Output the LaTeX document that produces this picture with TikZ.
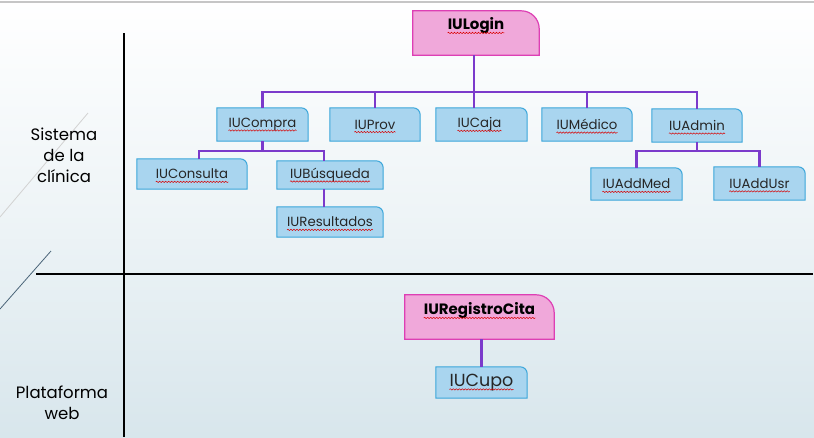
\documentclass[tikz,border=0pt]{standalone}
\usepackage{fontspec}
\setmainfont{Poppins}
\usetikzlibrary{decorations.pathmorphing}
\pgfdeclarelayer{bg}
\pgfdeclarelayer{boxes}
\pgfsetlayers{bg,boxes,main}
\definecolor{boxfill}{HTML}{A9D5EF}
\definecolor{boxline}{HTML}{3AA6DA}
\definecolor{pinkfill}{HTML}{F0A8DA}
\definecolor{pinkline}{HTML}{DD3FB4}
\definecolor{connc}{HTML}{7B3ACB}
\definecolor{bgbot}{HTML}{D8E6EC}
\definecolor{slateline}{HTML}{4A6478}
\definecolor{txt}{HTML}{262626}
\newcommand\shapebox[3]{%
  \begin{pgfonlayer}{boxes}
  \path[#3] (#1.south west) -- (#1.north west) -- ([xshift=-#2]#1.north east)
    arc[start angle=90,end angle=0,radius=#2] -- (#1.south east) -- cycle;
  \end{pgfonlayer}}
\newcommand\squig[1]{%
  \draw[squigline] ([yshift=-3pt]#1.base west) -- ([yshift=-3pt]#1.base east);}
\tikzset{
  x=1pt, y=-1pt,
  hold/.style={rectangle, inner sep=0pt, draw=none, fill=none},
  bluebox/.style={fill=boxfill, draw=boxline, line width=1pt},
  pinkbox/.style={fill=pinkfill, draw=pinkline, line width=1.2pt},
  lbl/.style={inner sep=0pt, text=txt, font=\fontsize{13.3}{15}\selectfont},
  biglbl/.style={inner sep=0pt, text=txt, font=\fontsize{17.5}{20}\selectfont},
  boldlbl/.style={inner sep=0pt, text=black, font=\fontsize{15}{18}\selectfont\bfseries},
  lane/.style={align=center, inner sep=0pt, text=black, font=\fontsize{16.5}{21}\selectfont},
  connline/.style={draw=connc, line width=2.4pt},
  squigline/.style={draw=red!85!black, line width=0.5pt, decorate,
    decoration={snake, amplitude=0.7pt, segment length=3pt}},
  sepline/.style={draw=black, line width=2.2pt}
}
\begin{document}
\begin{tikzpicture}
\useasboundingbox (0,0) rectangle (814,437);
\begin{pgfonlayer}{bg}
\shade[top color=white, bottom color=bgbot, middle color=white!55!bgbot] (0,0) rectangle (814,437);
\draw[gray!45, line width=1.5pt] (0,2) -- (814,2);
\draw[gray!35, line width=0.8pt] (0,217) -- (88,113);
\draw[slateline, line width=0.8pt] (0,309) -- (51,251);
\end{pgfonlayer}

% separators
\draw[sepline] (124,33) -- (124,437);
\draw[sepline] (36,274) -- (813,274);

% lane labels
\node[lane] (sis) at (64,155) {Sistema\\de la\\clínica};
\node[lane] (web) at (62,403) {Plataforma\\web};

% box holders
\node[hold, minimum width=126pt, minimum height=44pt] (login) at (476,33) {};
\node[hold, minimum width=91pt, minimum height=33pt] (compra) at (262.5,124.5) {};
\node[hold, minimum width=90pt, minimum height=33pt] (prov) at (375,124.5) {};
\node[hold, minimum width=91pt, minimum height=33pt] (caja) at (481.5,124.5) {};
\node[hold, minimum width=90pt, minimum height=33pt] (medico) at (587,124.5) {};
\node[hold, minimum width=90pt, minimum height=33pt] (admin) at (697,125.5) {};
\node[hold, minimum width=110pt, minimum height=30pt] (consulta) at (192,174) {};
\node[hold, minimum width=106pt, minimum height=28pt] (busq) at (330,175) {};
\node[hold, minimum width=106pt, minimum height=30pt] (resul) at (330,222) {};
\node[hold, minimum width=91pt, minimum height=32pt] (addmed) at (636.5,184) {};
\node[hold, minimum width=91pt, minimum height=33pt] (addusr) at (759.5,183.5) {};
\node[hold, minimum width=149pt, minimum height=44pt] (reg) at (479.5,317) {};
\node[hold, minimum width=91pt, minimum height=31pt] (cupo) at (481.5,382.5) {};

\shapebox{login}{18pt}{pinkbox}
\shapebox{reg}{18pt}{pinkbox}
\shapebox{compra}{7pt}{bluebox}
\shapebox{prov}{7pt}{bluebox}
\shapebox{caja}{7pt}{bluebox}
\shapebox{medico}{7pt}{bluebox}
\shapebox{admin}{7pt}{bluebox}
\shapebox{consulta}{7pt}{bluebox}
\shapebox{busq}{7pt}{bluebox}
\shapebox{resul}{7pt}{bluebox}
\shapebox{addmed}{7pt}{bluebox}
\shapebox{addusr}{7pt}{bluebox}
\shapebox{cupo}{7pt}{bluebox}

% texts
\node[boldlbl] (tlogin) at ([yshift=7pt]login.center) {IULogin};
\node[boldlbl] (treg) at ([yshift=6pt]reg.center) {IURegistroCita};
\node[lbl] (tcompra) at (compra.center) {IUCompra};
\node[lbl] (tprov) at (prov.center) {IUProv};
\node[lbl] (tcaja) at ([xshift=-2pt]caja.center) {IUCaja};
\node[lbl] (tmedico) at (medico.center) {IUMédico};
\node[lbl] (tadmin) at (admin.center) {IUAdmin};
\node[lbl] (tconsulta) at (consulta.center) {IUConsulta};
\node[lbl] (tbusq) at (busq.center) {IUBúsqueda};
\node[lbl] (tresul) at (resul.center) {IUResultados};
\node[lbl] (taddmed) at (addmed.center) {IUAddMed};
\node[lbl] (taddusr) at (addusr.center) {IUAddUsr};
\node[biglbl] (tcupo) at (cupo.center) {IUCupo};
\foreach \t in {tlogin,treg,tcompra,tprov,tcaja,tmedico,tadmin,tconsulta,tbusq,tresul,taddmed,taddusr,tcupo}{\squig{\t}}

% connectors
\coordinate (bus) at (0,92);
\coordinate (bus2) at (0,151);
\draw[connline] (compra.north) -- (compra.north |- bus) -- (admin.north |- bus) -- (admin.north);
\draw[connline] (prov.north) -- (prov.north |- bus);
\draw[connline] (medico.north) -- (medico.north |- bus);
\draw[connline] ([xshift=-2pt]login.south) -- ([xshift=-2pt]login.south |- caja.north);
\draw[connline] (compra.south) -- (compra.south |- bus2);
\draw[connline] ([xshift=7pt]consulta.north) -- ([xshift=7pt]consulta.north |- bus2) -- ([xshift=-6pt]busq.north |- bus2) -- ([xshift=-6pt]busq.north);
\draw[connline] ([xshift=-6pt]busq.south) -- ([xshift=-6pt]resul.north);
\draw[connline] (admin.south) -- (admin.south |- bus2);
\draw[connline] (addmed.north) -- (addmed.north |- bus2) -- (addusr.north |- bus2) -- (addusr.north);
\draw[connline] (reg.south -| cupo.north) -- (cupo.north);
\end{tikzpicture}
\end{document}
